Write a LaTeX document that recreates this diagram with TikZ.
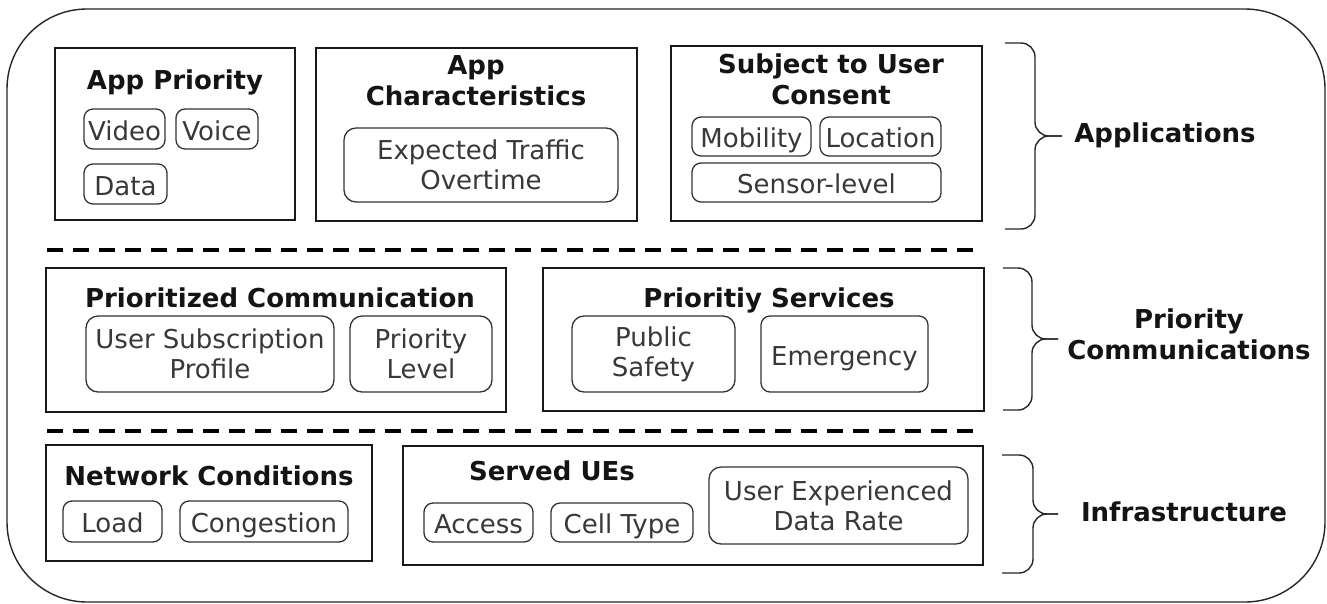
\documentclass[tikz,border=0pt]{standalone}
\usepackage{fontspec}
\setmainfont{DejaVu Sans}
\begin{document}
\begin{tikzpicture}[x=1pt,y=-1pt,
  outerbox/.style={draw=black!85, line width=1.4pt, rounded corners=80pt, minimum width=#1},
  grp/.style={draw=black!90, line width=1.8pt, inner sep=0pt},
  item/.style={draw=black!80, line width=1.3pt, rounded corners=9pt, inner sep=0pt,
    font=\fontsize{26}{30}\selectfont, text=black!78, text height=24pt, text depth=2pt},
  itemm/.style={draw=black!80, line width=1.3pt, rounded corners=12pt, inner sep=0pt,
    font=\fontsize{26}{30}\selectfont, text=black!78, align=center},
  ttl/.style={font=\bfseries\fontsize{26}{31}\selectfont, text=black!92, inner sep=0pt, anchor=base},
  ttlm/.style={font=\bfseries\fontsize{26}{31}\selectfont, text=black!92, inner sep=0pt, align=center},
  sep/.style={line width=4.5pt, dash pattern=on 16pt off 10pt},
  brace/.style={line width=1.4pt, draw=black!85, rounded corners=14pt}
]
\useasboundingbox (0,0) rectangle (1327,603);

% outer frame
\node[draw=black!85, line width=1.4pt, rounded corners=80pt, minimum width=1318pt, minimum height=593pt, inner sep=0pt] (outer) at (666,305.5) {};

% ---------------- Row 1: Applications
\node[grp, minimum width=240pt, minimum height=172pt] (ap) at (175,134) {};
\node[ttl] (apt) at (175,89) {App Priority};
\node[item, minimum width=81pt, minimum height=40pt] (video) at (124.5,129) {Video};
\node[item, minimum width=82pt, minimum height=40pt] (voice) at (217,129) {Voice};
\node[item, minimum width=83pt, minimum height=40pt] (data) at (125.5,184) {Data};

\node[grp, minimum width=321pt, minimum height=173pt] (ac) at (476.5,134.5) {};
\node[ttlm] (act) at (476,81) {App\\Characteristics};
\node[itemm, minimum width=274pt, minimum height=74pt] (et) at (481,165) {Expected Traffic\\Overtime};

\node[grp, minimum width=311pt, minimum height=175pt] (sc) at (826.5,133.5) {};
\node[ttlm] (sct) at (831,79) {Subject to User\\Consent};
\node[item, minimum width=119pt, minimum height=39pt] (mob) at (751.5,136.5) {Mobility};
\node[item, minimum width=121pt, minimum height=39pt] (loc) at (880.5,136.5) {Location};
\node[item, minimum width=249pt, minimum height=39pt] (sens) at (816.5,182.5) {Sensor-level};

% separator 1
\coordinate (s1a) at (47,250);
\coordinate (s1b) at (982,250);
\draw[sep] (s1a) -- (s1b);

% ---------------- Row 2: Priority Communications
\node[grp, minimum width=460pt, minimum height=144pt] (pc) at (276,340) {};
\node[ttl] (pct) at (280,307) {Prioritized Communication};
\node[itemm, minimum width=248pt, minimum height=76pt] (usp) at (210,354) {User Subscription\\Profile};
\node[itemm, minimum width=142pt, minimum height=76pt] (pl) at (421,354) {Priority\\Level};

\node[grp, minimum width=441pt, minimum height=143pt] (ps) at (763.5,339.5) {};
\node[ttl] (pst) at (769,307) {Prioritiy Services};
\node[itemm, minimum width=163pt, minimum height=76pt] (pubs) at (653.5,354) {Public\\Safety};
\node[item, minimum width=167pt, minimum height=76pt] (emg) at (844.5,354) {Emergency};

% separator 2
\coordinate (s2a) at (47,431);
\coordinate (s2b) at (982,431);
\draw[sep] (s2a) -- (s2b);

% ---------------- Row 3: Infrastructure
\node[grp, minimum width=326pt, minimum height=116pt] (nc) at (209,503) {};
\node[ttl] (nct) at (209,485) {Network Conditions};
\node[item, minimum width=99pt, minimum height=41pt] (load) at (112.5,521.5) {Load};
\node[item, minimum width=168pt, minimum height=41pt] (cong) at (264,521.5) {Congestion};

\node[grp, minimum width=580pt, minimum height=119pt] (su) at (693,505.5) {};
\node[ttl] (sut) at (552,480) {Served UEs};
\node[item, minimum width=109pt, minimum height=39pt] (acc) at (478.5,522.5) {Access};
\node[item, minimum width=142pt, minimum height=39pt] (cell) at (622,522.5) {Cell Type};
\node[itemm, minimum width=259pt, minimum height=77pt] (uedr) at (838.5,505.5) {User Experienced\\Data Rate};

% ---------------- Braces and layer labels
\draw[brace] (1005,43) -- (1035,43) -- (1035,136) -- (1062,136);
\draw[brace] (1005,229) -- (1035,229) -- (1035,136) -- (1062,136);
\node[ttl] (lapp) at (1165,142) {Applications};

\draw[brace] (1003,268) -- (1032,268) -- (1032,339) -- (1058,339);
\draw[brace] (1003,410) -- (1032,410) -- (1032,339) -- (1058,339);
\node[ttlm] (lpc) at (1189,334) {Priority\\Communications};

\draw[brace] (1002,455) -- (1033,455) -- (1033,514) -- (1058,514);
\draw[brace] (1002,573) -- (1033,573) -- (1033,514) -- (1058,514);
\node[ttl] (linf) at (1184,521) {Infrastructure};
\end{tikzpicture}
\end{document}
